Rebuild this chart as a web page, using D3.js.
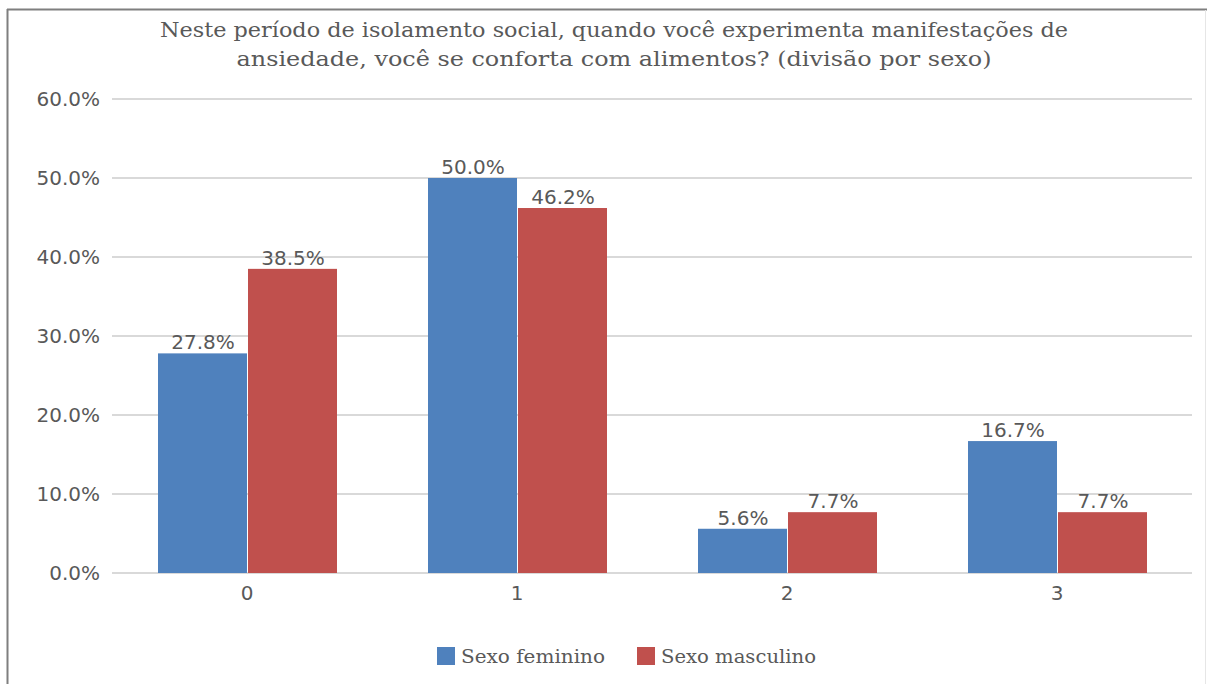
<!DOCTYPE html>
<html>
<head>
<meta charset="utf-8">
<script src="https://cdn.jsdelivr.net/npm/d3@7"></script>
<style>
  html, body { margin: 0; padding: 0; background: #fff; }
  svg { display: block; }
</style>
</head>
<body>
<svg id="chart" width="1207" height="684"></svg>
<script>
const categories = ["0", "1", "2", "3"];
const seriesNames = ["Sexo feminino", "Sexo masculino"];
const feminino = [27.8, 50.0, 5.6, 16.7];
const masculino = [38.5, 46.2, 7.7, 7.7];
const yTicks = [0, 10, 20, 30, 40, 50, 60];
const titleLines = [
  "Neste período de isolamento social, quando você experimenta manifestações de",
  "ansiedade, você se conforta com alimentos? (divisão por sexo)"
];
const colors = ["#4F81BD", "#C0504D"];

const series = [feminino, masculino];
const svg = d3.select("#chart");
const W = 1207, H = 684;
const margin = { left: 112, right: 1192, top: 99, bottom: 573 };
const numFont = "DejaVu Sans, sans-serif";
const numSize = 20;

// frame
svg.append("rect").attr("x", 0).attr("y", 0).attr("width", W).attr("height", H).attr("fill", "#fff");
svg.append("line").attr("x1", 7.5).attr("x2", 7.5).attr("y1", 9).attr("y2", H).attr("stroke", "#7f7f7f").attr("stroke-width", 2);
svg.append("line").attr("x1", 7).attr("x2", W).attr("y1", 9.5).attr("y2", 9.5).attr("stroke", "#7f7f7f").attr("stroke-width", 2);
svg.append("line").attr("x1", 1205.5).attr("x2", 1205.5).attr("y1", 10).attr("y2", H).attr("stroke", "#e6e6e6").attr("stroke-width", 1);

const x0 = d3.scaleBand().domain(categories).range([margin.left, margin.right]).paddingInner(1/3).paddingOuter(1/6);
const x1 = d3.scaleBand().domain(seriesNames).range([0, x0.bandwidth()]).padding(0);
const y = d3.scaleLinear().domain([0, 60]).range([margin.bottom, margin.top]);

// gridlines + y axis
const yAxis = d3.axisLeft(y).tickValues(yTicks).tickFormat(d => d.toFixed(1) + "%").tickSize(0).tickPadding(12);
const gy = svg.append("g").attr("transform", `translate(${margin.left},0)`).call(yAxis);
gy.select(".domain").remove();
gy.selectAll("text").attr("font-family", numFont).attr("font-size", numSize).attr("fill", "#595959");

svg.append("g").selectAll("line").data(yTicks).join("line")
  .attr("x1", margin.left).attr("x2", margin.right)
  .attr("y1", d => y(d)).attr("y2", d => y(d))
  .attr("stroke", "#d9d9d9").attr("stroke-width", 2);

// bars
const groups = svg.append("g").selectAll("g").data(categories).join("g")
  .attr("transform", d => `translate(${x0(d)},0)`);
groups.selectAll("rect").data((c, i) => series.map((s, j) => ({ name: seriesNames[j], v: s[i], j })))
  .join("rect")
  .attr("x", d => x1(d.name) + 1)
  .attr("y", d => y(d.v))
  .attr("width", x1.bandwidth() - 1)
  .attr("height", d => y(0) - y(d.v))
  .attr("fill", d => colors[d.j]);
groups.selectAll("text").data((c, i) => series.map((s, j) => ({ name: seriesNames[j], v: s[i], j })))
  .join("text")
  .attr("x", d => x1(d.name) + x1.bandwidth() / 2 + 1)
  .attr("y", d => y(d.v) - 4)
  .attr("text-anchor", "middle")
  .attr("font-family", numFont).attr("font-size", numSize).attr("fill", "#595959")
  .text(d => d.v.toFixed(1) + "%");

// x axis labels
const xAxis = d3.axisBottom(x0).tickSize(0).tickPadding(13);
const gx = svg.append("g").attr("transform", `translate(0,${margin.bottom})`).call(xAxis);
gx.select(".domain").remove();
gx.selectAll("text").attr("font-family", numFont).attr("font-size", numSize).attr("fill", "#595959");

// title
const titleWidths = [908, 755];
titleLines.forEach((t, i) => {
  svg.append("text").attr("text-anchor", "middle")
    .attr("font-family", "DejaVu Serif, serif").attr("font-stretch", "condensed")
    .attr("font-size", 21).attr("fill", "#595959")
    .attr("x", 614).attr("y", 37 + i * 29)
    .attr("textLength", titleWidths[i]).attr("lengthAdjust", "spacingAndGlyphs")
    .text(t);
});

// legend
const legendItems = [{ name: seriesNames[0], c: colors[0], x: 437, w: 144 }, { name: seriesNames[1], c: colors[1], x: 637, w: 155 }];
const lg = svg.append("g").selectAll("g").data(legendItems).join("g")
  .attr("transform", d => `translate(${d.x},647)`);
lg.append("rect").attr("width", 18).attr("height", 18).attr("fill", d => d.c);
lg.append("text").attr("x", 24).attr("y", 16)
  .attr("font-family", "DejaVu Serif, serif").attr("font-stretch", "condensed")
  .attr("font-size", 19).attr("fill", "#595959")
  .attr("textLength", d => d.w).attr("lengthAdjust", "spacingAndGlyphs")
  .text(d => d.name);
</script>
</body>
</html>
